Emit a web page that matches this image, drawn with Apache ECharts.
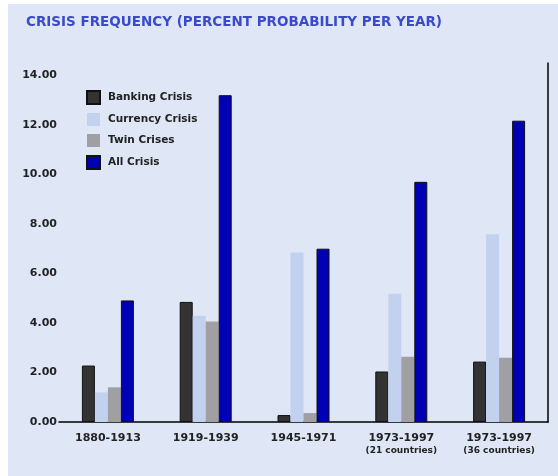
<!DOCTYPE html>
<html>
<head>
<meta charset="utf-8">
<script src="https://cdn.jsdelivr.net/npm/echarts@6/dist/echarts.min.js"></script>
<style>
html,body{margin:0;padding:0;background:#ffffff;}
#c{position:absolute;left:8px;top:4px;width:550px;height:472px;}
</style>
</head>
<body>
<div id="c"></div>
<script>
var categories = ['1880-1913', '1919-1939', '1945-1971', '1973-1997\n(21 countries)', '1973-1997\n(36 countries)'];
var banking = [2.28, 4.85, 0.28, 2.04, 2.44];
var currency = [1.20, 4.29, 6.85, 5.18, 7.58];
var twin = [1.40, 4.06, 0.36, 2.64, 2.60];
var allCrisis = [4.91, 13.20, 7.00, 9.70, 12.17];
var seriesNames = ['Banking Crisis', 'Currency Crisis', 'Twin Crises', 'All Crisis'];
var yTicks = [0, 2, 4, 6, 8, 10, 12, 14];

var chart = echarts.init(document.getElementById('c'));
var labelFont = 'DejaVu Sans';
function bar(name, data, color, border) {
  return {
    name: name, type: 'bar', data: data, barWidth: 13, barGap: '0%',
    itemStyle: { color: color, borderColor: border ? '#111' : color, borderWidth: border ? 1 : 0 }
  };
}
chart.setOption({
  backgroundColor: '#dfe7f6',
  animation: false,
  title: {
    text: 'CRISIS FREQUENCY (PERCENT PROBABILITY PER YEAR)',
    left: 18, top: 11, padding: 0,
    textStyle: { color: '#3a4acb', fontSize: 13.5, fontWeight: 'bold', fontFamily: labelFont }
  },
  legend: {
    orient: 'vertical', left: 73, top: 81,
    itemWidth: 13, itemHeight: 13, itemGap: 8, icon: 'rect',
    data: seriesNames,
    textStyle: { color: '#222', fontSize: 10.5, fontWeight: 'bold', fontFamily: labelFont, padding: [0, 0, 0, 3] }
  },
  grid: { left: 51, right: 10, top: 59, bottom: 54 },
  xAxis: {
    type: 'category', data: categories,
    axisLine: { lineStyle: { color: '#000', width: 1.5 } },
    axisTick: { show: false },
    axisLabel: {
      interval: 0, margin: 10, color: '#222', fontSize: 11, fontWeight: 'bold', fontFamily: labelFont, lineHeight: 13,
      formatter: function (v) {
        var p = v.split('\n');
        return p.length > 1 ? p[0] + '\n{s|' + p[1] + '}' : v;
      },
      rich: { s: { fontSize: 9, fontWeight: 'bold', fontFamily: labelFont, color: '#222', lineHeight: 12 } }
    }
  },
  yAxis: [{
    type: 'value', min: 0, max: 14.5, interval: 2,
    axisLine: { show: false }, axisTick: { show: false }, splitLine: { show: false },
    axisLabel: {
      margin: 2, showMaxLabel: false, color: '#222', fontSize: 11, fontWeight: 'bold', fontFamily: labelFont,
      formatter: function (v) { return yTicks.indexOf(v) >= 0 ? v.toFixed(2) : ''; }
    }
  }, {
    type: 'value', min: 0, max: 14.5, position: 'right',
    axisLine: { show: true, lineStyle: { color: '#000', width: 1.5 } },
    axisTick: { show: false }, axisLabel: { show: false }, splitLine: { show: false }
  }],
  series: [
    bar(seriesNames[0], banking, '#333333', true),
    bar(seriesNames[1], currency, '#c2d2ee', false),
    bar(seriesNames[2], twin, '#a09fa4', false),
    bar(seriesNames[3], allCrisis, '#0000b4', true)
  ]
});
</script>
</body>
</html>
